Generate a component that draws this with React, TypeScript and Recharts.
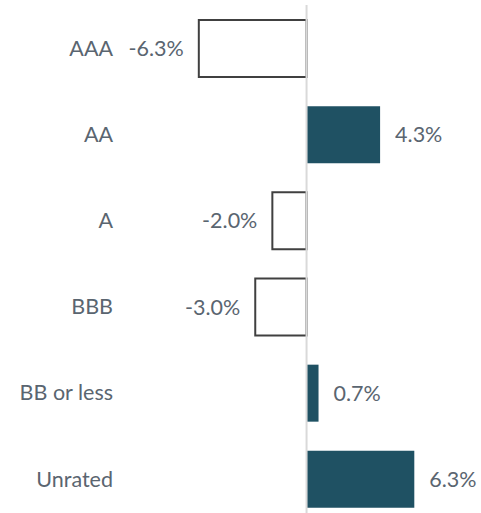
import { BarChart, Bar, XAxis, YAxis, ReferenceLine, LabelList, Cell } from "recharts";

const categories = ["AAA", "AA", "A", "BBB", "BB or less", "Unrated"];
const values = [-6.3, 4.3, -2.0, -3.0, 0.7, 6.3];

const data = categories.map((name, i) => ({ name, value: values[i] }));

const TEXT = "#5a6570";
const FILL = "#1f5163";

export default function App() {
  return (
    <div style={{ position: "absolute", left: 0, top: 0, fontFamily: "Lato, 'Noto Sans', sans-serif" }}>
      <BarChart
        width={481}
        height={530}
        data={data}
        layout="vertical"
        margin={{ top: 5, right: 0, bottom: 8, left: 0 }}
        barSize={57}
      >
        <XAxis type="number" domain={[-10.85, 10.2]} hide allowDataOverflow />
        <YAxis
          type="category"
          dataKey="name"
          width={121}
          axisLine={false}
          tickLine={false}
          tick={{ fill: TEXT, fontSize: 21.5 }}
        />
        <Bar dataKey="value" isAnimationActive={false}>
          {data.map((d) => (
            <Cell
              key={d.name}
              fill={d.value < 0 ? "#ffffff" : FILL}
              stroke={d.value < 0 ? "#404040" : FILL}
              strokeWidth={d.value < 0 ? 2 : 0}
            />
          ))}
          <LabelList
            dataKey="value"
            position="right"
            offset={15}
            fill={TEXT}
            fontSize={21.5}
            formatter={(v: number) => `${v.toFixed(1)}%`}
          />
        </Bar>
        <ReferenceLine x={0} stroke="#d9d9d9" strokeWidth={2} />
      </BarChart>
    </div>
  );
}
